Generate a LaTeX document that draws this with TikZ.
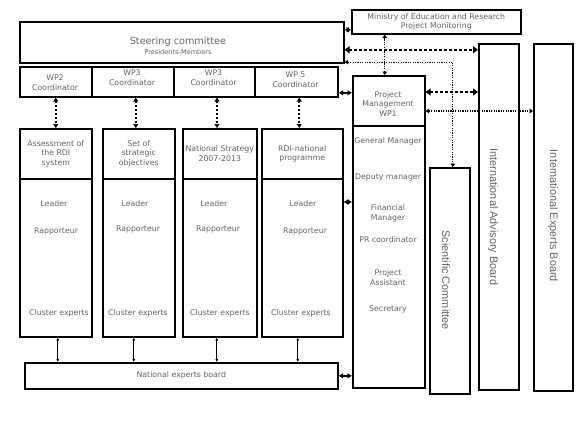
\documentclass[tikz,border=0pt]{standalone}
\usepackage{fontspec}
\setmainfont{DejaVu Sans}
\newfontfamily\vfont{Liberation Sans}
\usetikzlibrary{arrows.meta,calc}
\definecolor{txtgray}{RGB}{100,100,100}
\begin{document}
\begin{tikzpicture}[x=1bp,y=-1bp,
  box/.style={draw=black,line width=1.6bp,inner sep=0.5bp,anchor=north west,text=txtgray,
    font=\fontsize{7.8bp}{9.7bp}\selectfont,align=center},
  txt/.style={text=txtgray,font=\fontsize{7.8bp}{9.7bp}\selectfont,align=center,inner sep=0pt},
  vtxt/.style={text=txtgray,font=\vfont\fontsize{10.9bp}{12bp}\selectfont,rotate=-90,inner sep=0pt},
  bigdot/.style={line width=2.4bp,dash pattern=on 2.5bp off 2.5bp,
    {Triangle[length=5bp,width=7bp]}-{Triangle[length=5bp,width=7bp]}},
  vdot/.style={line width=2bp,dash pattern=on 2bp off 2bp,
    {Triangle[length=4bp,width=5bp]}-{Triangle[length=4bp,width=5bp]}},
  thindot/.style={line width=1.2bp,dash pattern=on 1.2bp off 1.2bp,
    {Triangle[length=3.5bp,width=4.5bp]}-{Triangle[length=3.5bp,width=4.5bp]}},
  dia/.style={line width=1.4bp,{Latex[length=4.5bp,width=6bp]}-{Latex[length=4.5bp,width=6bp]}},
  solidarr/.style={line width=1bp,{Latex[length=3bp,width=3bp]}-{Latex[length=3bp,width=3bp]}}
]
\useasboundingbox (0,0) rectangle (576,432);

% Steering committee
\node[box,minimum width=324bp,minimum height=41bp] (steer) at (19,21) {};
\node[txt,font=\fontsize{9.7bp}{11bp}\selectfont] (steert) at (178,42) {Steering committee};
\node[txt,font=\fontsize{6.6bp}{8bp}\selectfont] (steerp) at (178,52) {Presidents-Members};

% Ministry
\node[box,minimum width=169bp,minimum height=24bp] (min) at (351,9) {Ministry of Education and Research\\Project Monitoring};

% WP coordinators
\node[box,minimum width=72bp,minimum height=30bp] (wp2) at (19,66) {};
\node[box,minimum width=82bp,minimum height=30bp] (wp3a) at (91,66) {};
\node[box,minimum width=81bp,minimum height=30bp] (wp3b) at (173,66) {};
\node[box,minimum width=83bp,minimum height=30bp] (wp5) at (254,66) {};
\node[txt] (wp2t) at (55,83) {WP2\\Coordinator};
\node[txt] (wp3at) at (132,77.5) {WP3\\Coordinator};
\node[txt] (wp3bt) at (213.5,77.5) {WP3\\Coordinator};
\node[txt] (wp5t) at (295.5,79.5) {WP 5\\Coordinator};

% Columns
\node[box,minimum width=72bp,minimum height=50bp] (h1) at (19,128) {Assessment of\\the RDI\\system};
\node[box,minimum width=72bp,minimum height=158bp] (b1) at (19,178) {};
\node[box,minimum width=72bp,minimum height=50bp] (h2) at (102,128) {Set of\\strategic\\objectives};
\node[box,minimum width=72bp,minimum height=158bp] (b2) at (102,178) {};
\node[box,minimum width=74bp,minimum height=50bp] (h3) at (182,128) {National Strategy\\2007-2013};
\node[box,minimum width=74bp,minimum height=158bp] (b3) at (182,178) {};
\node[box,minimum width=81bp,minimum height=50bp] (h4) at (261,128) {RDI-national\\programme};
\node[box,minimum width=81bp,minimum height=158bp] (b4) at (261,178) {};

\node[txt] (l1) at (54,204) {Leader};
\node[txt] (r1) at (56,231) {Rapporteur};
\node[txt] (c1) at (59,313) {Cluster experts};
\node[txt] (l2) at (135,204) {Leader};
\node[txt] (r2) at (138,229) {Rapporteur};
\node[txt] (c2) at (138,313) {Cluster experts};
\node[txt] (l3) at (214,204) {Leader};
\node[txt] (r3) at (218,229) {Rapporteur};
\node[txt] (c3) at (220,313) {Cluster experts};
\node[txt] (l4) at (303,204) {Leader};
\node[txt] (r4) at (305,231) {Rapporteur};
\node[txt] (c4) at (301,313) {Cluster experts};

% Project management
\node[box,minimum width=72bp,minimum height=50bp] (pmh) at (352,75) {};
\node[box,minimum width=72bp,minimum height=262bp] (pmb) at (352,125) {};
\node[txt] (pmt) at (388,104) {Project\\Management\\WP1};
\node[txt] (pm1) at (388,141) {General Manager};
\node[txt] (pm2) at (388,177) {Deputy manager};
\node[txt] (pm3) at (388,213.5) {Financial\\Manager};
\node[txt] (pm4) at (388,240) {PR coordinator};
\node[txt] (pm5) at (388,277.5) {Project\\Assistant};
\node[txt] (pm6) at (388,309) {Secretary};

% Right boards
\node[box,minimum width=40bp,minimum height=226bp] (sc) at (429,167) {};
\node[box,minimum width=40bp,minimum height=346bp] (iab) at (478,43) {};
\node[box,minimum width=39bp,minimum height=347bp] (ieb) at (533,43) {};
\node[vtxt] (sct) at (446,280) {Scientific Committee};
\node[vtxt] (iabt) at (493,217) {International Advisory Board};
\node[vtxt] (iebt) at (553,216) {International Experts Board};

% National experts board
\node[box,minimum width=313bp,minimum height=26bp] (neb) at (24,362) {National experts board};

% WP -> column connectors
\coordinate (m1) at ($(wp2.south)!.5!(h1.north)$);
\coordinate (m2) at ($(wp3a.south)!.5!(h2.north)$);
\coordinate (m3) at ($(wp3b.south)!.5!(h3.north)$);
\coordinate (m4) at ($(wp5.south)!.5!(h4.north)$);
\draw[vdot] (m1 |- wp2.south) -- (m1 |- h1.north);
\draw[vdot] (m2 |- wp3a.south) -- (m2 |- h2.north);
\draw[vdot] (m3 |- wp3b.south) -- (m3 |- h3.north);
\draw[vdot] (m4 |- wp5.south) -- (m4 |- h4.north);

% column -> national experts board
\draw[solidarr] ([xshift=2bp]b1.south) -- ([xshift=2bp]b1.south |- neb.north);
\draw[solidarr] ([xshift=-5bp]b2.south) -- ([xshift=-5bp]b2.south |- neb.north);
\draw[solidarr] ([xshift=-3bp]b3.south) -- ([xshift=-3bp]b3.south |- neb.north);
\draw[solidarr] ([xshift=-4.5bp]b4.south) -- ([xshift=-4.5bp]b4.south |- neb.north);

% links to project management
\draw[dia] ([yshift=-11bp]wp5.east) -- ([yshift=-11bp]wp5.east -| pmh.west);
\draw[dia] ([yshift=-24bp]b4.north east) -- ([yshift=-24bp]b4.north east -| pmb.west);
\draw[dia] (neb.east) -- (neb.east -| pmb.west);

% steering links
\coordinate (mw) at ([yshift=-8bp]min.west);
\draw[dia] (mw -| steer.east) -- (mw);
\draw[bigdot] ([yshift=-7.5bp]steer.east) -- ([yshift=-7.5bp]steer.east -| iab.west);
\draw[thindot] ([yshift=1.5bp]steer.south east) -| ([xshift=3bp]sc.north);

% ministry <-> project management
\draw[thindot] ([xshift=-4bp]pmh.north) -- ([xshift=-4bp]pmh.north |- min.south);

% project management <-> boards
\draw[bigdot] ([yshift=-17bp]pmh.north east) -- ([yshift=-17bp]pmh.north east -| iab.west);
\draw[thindot] ([yshift=-36bp]pmh.north east) -- ([yshift=-36bp]pmh.north east -| ieb.west);
\end{tikzpicture}
\end{document}
